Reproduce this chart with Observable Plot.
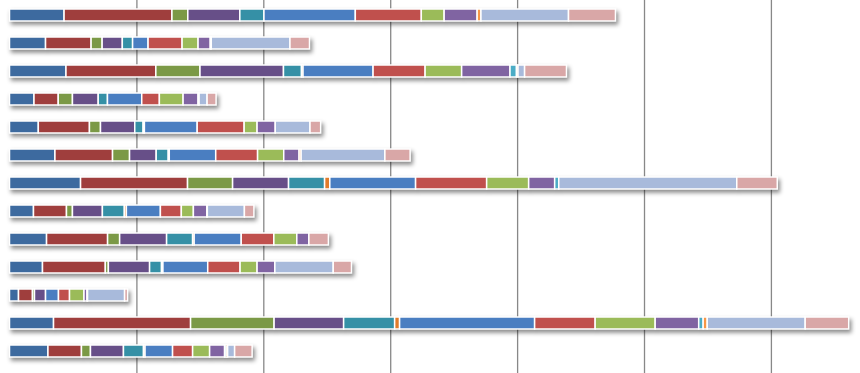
<!DOCTYPE html>
<html><head><meta charset="utf-8">
<script src="https://cdn.jsdelivr.net/npm/d3@7"></script>
<script src="https://cdn.jsdelivr.net/npm/@observablehq/plot@0.6"></script>
<style>body{margin:0;background:#fff;overflow:hidden;}</style>
</head><body><div id="chart"></div>
<script>
// Categories (rows, top to bottom) and series (segments, left to right)
const categories = ["Row 1","Row 2","Row 3","Row 4","Row 5","Row 6","Row 7","Row 8","Row 9","Row 10","Row 11","Row 12","Row 13"];
const seriesNames = ["Series 1","Series 2","Series 3","Series 4","Series 5","Series 6","Series 7","Series 8","Series 9","Series 10","Series 11","Series 12","Series 13","Series 14"];
const seriesColors = ["#3d6a9f","#9f3e3d","#7b9946","#674f88","#3590a6","#e07b2b","#4a7ec1","#c0504d","#9bbb59","#8064a2","#4bacc6","#f79646","#a8badb","#d9a7a7"];

// Values per row, in series order
const r01 = [43, 85, 12.5, 41, 19, 0, 72, 52, 18, 26, 0, 3, 69, 37];
const r02 = [28.4, 35.9, 8.7, 15.9, 8.1, 0, 12.2, 26.8, 12.6, 9.6, 0, 0.8, 62, 15.4];
const r03 = [44.5, 70.8, 34.8, 65.8, 14.2, 1.2, 55.2, 41, 28.8, 38.1, 5.1, 1.2, 5.2, 33];
const r04 = [19.3, 19.1, 11.2, 20.3, 7.3, 0, 27, 13.9, 18.7, 11.8, 0, 0.8, 6.3, 7.1];
const r05 = [22.7, 40.3, 8.7, 27, 6.6, 1, 41.6, 37, 10.2, 14.3, 0, 0, 27.4, 8.4];
const r06 = [35.8, 45.4, 13.4, 21, 9.5, 0.8, 36.6, 33, 20.6, 12.1, 0, 1.6, 66, 19.9];
const r07 = [56, 84.3, 35.5, 44.1, 28.4, 4.1, 67.6, 56, 33.1, 20.5, 3.2, 0, 140.3, 31.9];
const r08 = [18.9, 26, 4.7, 23.6, 17.3, 1.6, 26.8, 16.5, 9.5, 10.6, 0, 0.4, 29.2, 7.5];
const r09 = [29.2, 48.1, 9.5, 37, 20.5, 1.2, 37.1, 25.7, 18.1, 9.5, 0, 0, 0, 15.4];
const r10 = [26, 49.5, 2.4, 32.5, 9.4, 1.1, 35.3, 25.5, 13.4, 14, 0, 0, 46, 14.4];
const r11 = [7.1, 11, 1.6, 8.7, 0, 0, 10.2, 8.7, 11.4, 2.4, 0, 0.4, 29.2, 2.4];
const r12 = [34.7, 108, 65.8, 54.8, 40.2, 3.9, 106.4, 47.7, 47.3, 34.3, 3.5, 3.2, 77.2, 34.3];
const r13 = [30.3, 26.4, 7.1, 26, 15.8, 1.2, 21.7, 15.8, 13.4, 11.8, 1.2, 1.2, 5.5, 13.8];
const rowValues = [r01, r02, r03, r04, r05, r06, r07, r08, r09, r10, r11, r12, r13];

// Vertical gridline positions
const gridTicks = [100, 200, 300, 400, 500, 600];

const data = [];
categories.forEach((c, i) => rowValues[i].forEach((v, j) => {
  if (v > 0) data.push({category: c, series: seriesNames[j], value: v});
}));

const chart = Plot.plot({
  width: 860,
  height: 373,
  marginLeft: 9.5,
  marginRight: 0,
  marginTop: 0,
  marginBottom: 0,
  x: {domain: [0, 670.2], axis: null},
  y: {domain: categories, range: [-0.6, 366.6], paddingInner: 0.58, paddingOuter: 0.29, axis: null},
  color: {domain: seriesNames, range: seriesColors},
  marks: [
    Plot.ruleX(gridTicks, {stroke: "#888", strokeWidth: 1.3}),
    Plot.barX(data, Plot.stackX({
      x: "value", y: "category", fill: "series", order: seriesNames,
      stroke: "white", strokeWidth: 1.5
    }))
  ]
});
const bars = chart.querySelector('g[aria-label="bar"]');
if (bars) bars.style.filter = "drop-shadow(2px 3px 2.2px rgba(0,0,0,0.45))";
document.getElementById("chart").appendChild(chart);
</script>
</body></html>
